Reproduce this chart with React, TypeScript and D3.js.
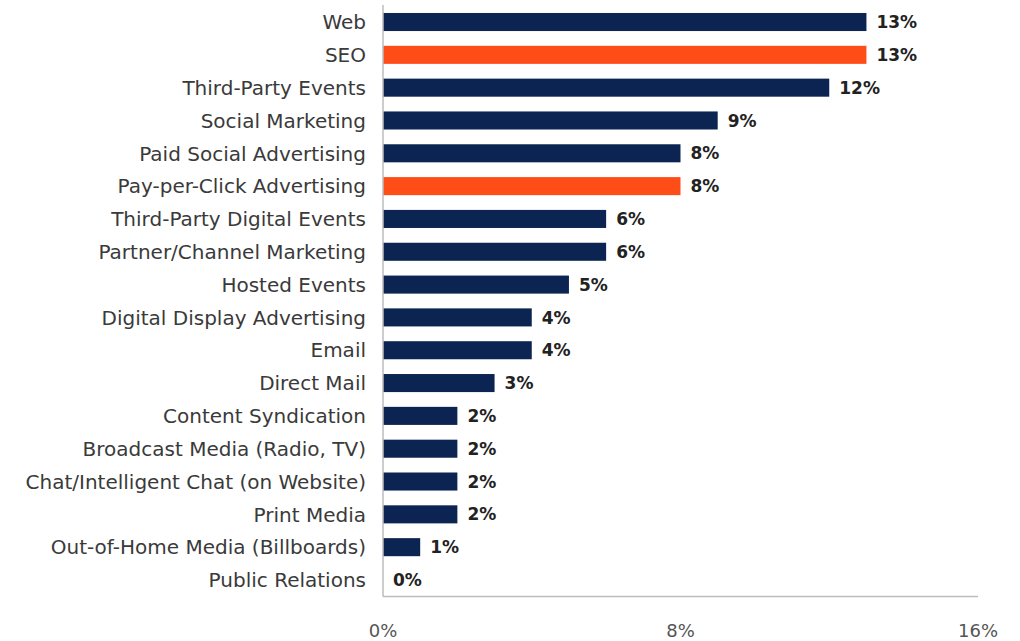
import React from "react";
import * as d3 from "d3";

const categories = [
  "Web",
  "SEO",
  "Third-Party Events",
  "Social Marketing",
  "Paid Social Advertising",
  "Pay-per-Click Advertising",
  "Third-Party Digital Events",
  "Partner/Channel Marketing",
  "Hosted Events",
  "Digital Display Advertising",
  "Email",
  "Direct Mail",
  "Content Syndication",
  "Broadcast Media (Radio, TV)",
  "Chat/Intelligent Chat (on Website)",
  "Print Media",
  "Out-of-Home Media (Billboards)",
  "Public Relations",
];
const values = [13, 13, 12, 9, 8, 8, 6, 6, 5, 4, 4, 3, 2, 2, 2, 2, 1, 0];
const highlighted = ["SEO", "Pay-per-Click Advertising"];
const xTicks = [0, 8, 16];

const W = 1020;
const H = 641;
const x0 = 383;
const x1 = 978;
const yTop = 5.6;
const yBottom = 596.4;

export default function App() {
  const x = d3.scaleLinear().domain([0, 16]).range([x0, x1]);
  const y = d3
    .scaleBand<string>()
    .domain(categories)
    .range([yTop, yBottom])
    .paddingInner(0.45)
    .paddingOuter(0.225);
  const font = "'DejaVu Sans', 'Noto Sans', sans-serif";
  return (
    <svg
      width={W}
      height={H}
      style={{ position: "absolute", left: 0, top: 0, background: "#fff" }}
    >
      {categories.map((c, i) => {
        const yy = y(c)!;
        const bw = y.bandwidth();
        const v = values[i];
        return (
          <g key={c}>
            <rect
              x={x(0)}
              y={yy}
              width={x(v) - x(0)}
              height={bw}
              fill={highlighted.includes(c) ? "#ff4d17" : "#0c2452"}
            />
            <text
              x={366}
              y={yy + bw / 2}
              dy="0.36em"
              textAnchor="end"
              fontFamily={font}
              fontSize={20}
              fill="#3a3a3a"
            >
              {c}
            </text>
            <text
              x={x(v) + 10}
              y={yy + bw / 2}
              dy="0.36em"
              fontFamily={font}
              fontSize={17}
              fontWeight={700}
              fill="#222"
            >
              {v}%
            </text>
          </g>
        );
      })}
      <line x1={x0} x2={x0} y1={5} y2={yBottom} stroke="#bdbdbd" strokeWidth={1.5} />
      <line x1={x0} x2={x1} y1={yBottom} y2={yBottom} stroke="#bdbdbd" strokeWidth={1.5} />
      {xTicks.map((t) => (
        <text
          key={t}
          x={x(t)}
          y={631}
          dy="0.35em"
          textAnchor="middle"
          fontFamily={font}
          fontSize={18}
          fill="#555"
        >
          {t}%
        </text>
      ))}
    </svg>
  );
}
